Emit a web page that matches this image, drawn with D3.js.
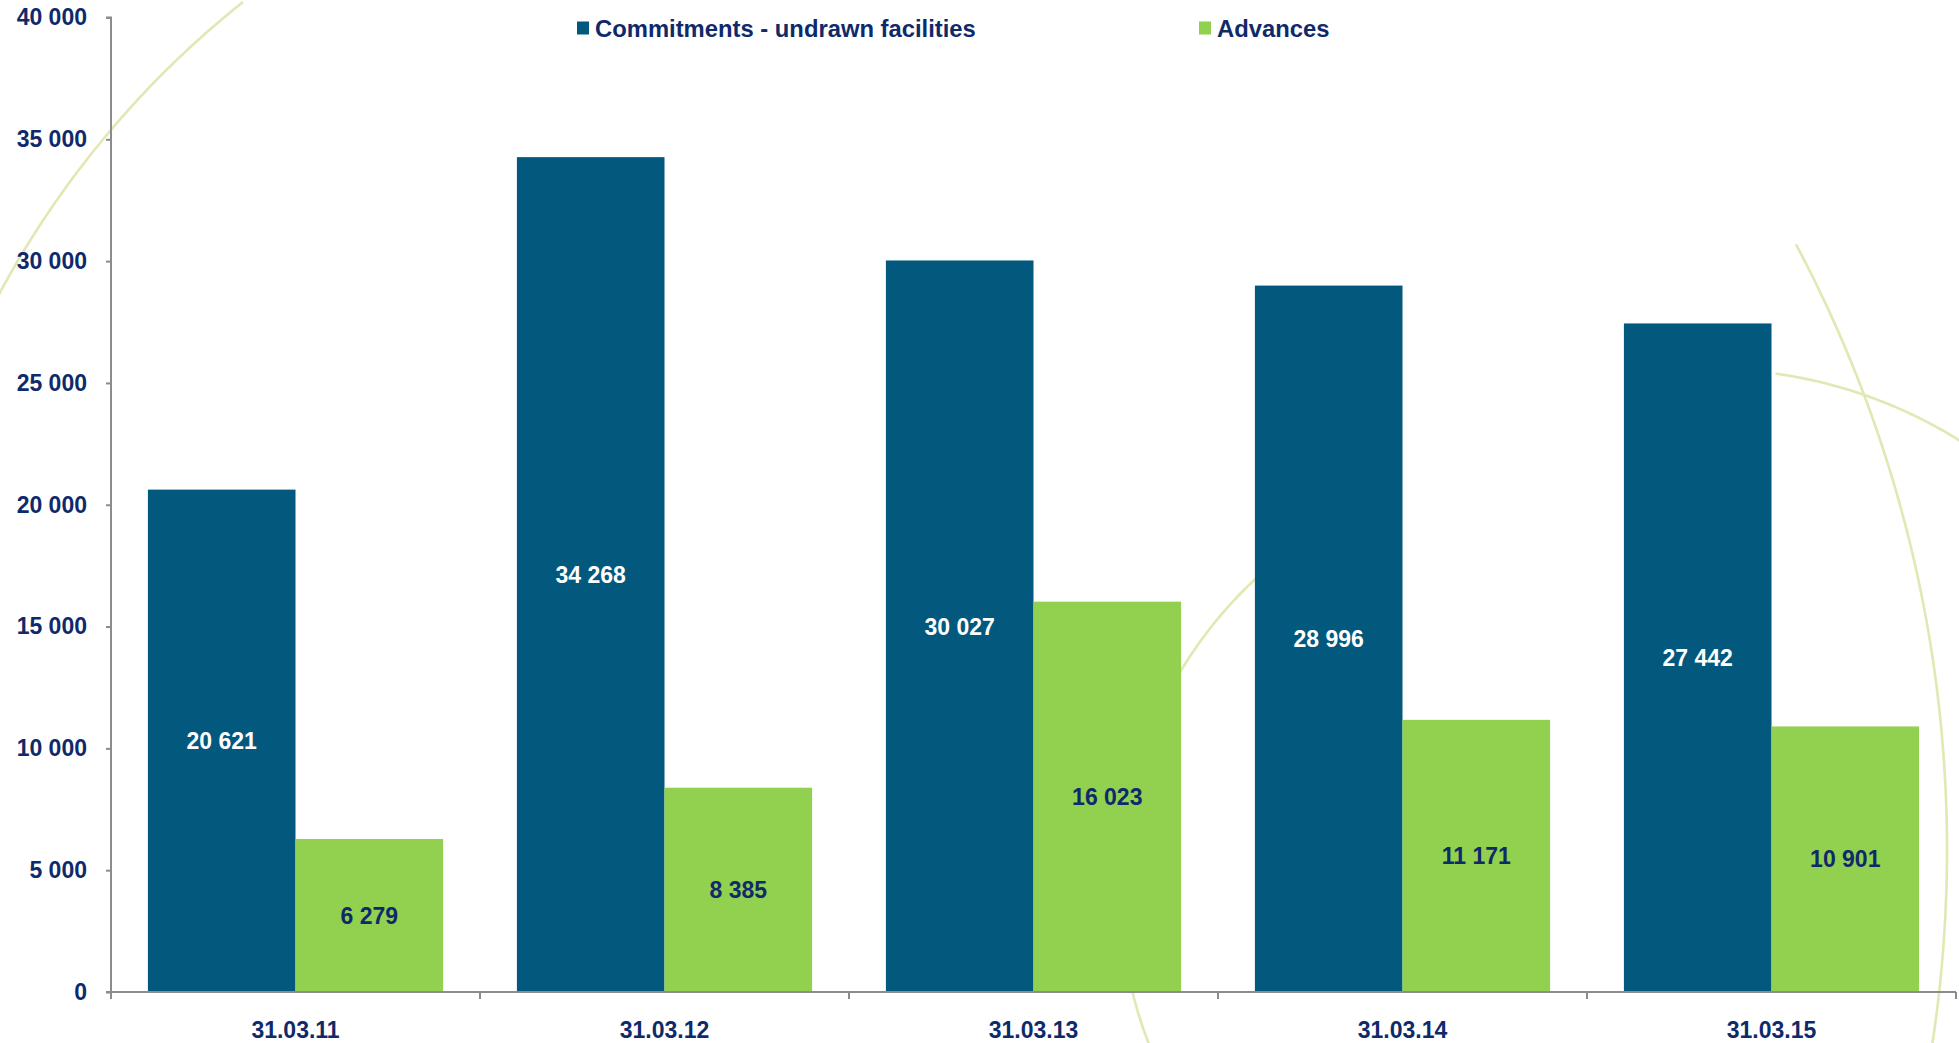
<!DOCTYPE html>
<html>
<head>
<meta charset="utf-8">
<script src="https://cdn.jsdelivr.net/npm/d3@7/dist/d3.min.js"></script>
<style>
html,body{margin:0;padding:0;background:#fff;}
svg{display:block;font-family:"Liberation Sans",Arial,sans-serif;font-weight:bold;}
</style>
</head>
<body>
<svg id="chart" width="1959" height="1043"></svg>
<script>
const categories = ["31.03.11","31.03.12","31.03.13","31.03.14","31.03.15"];
const seriesNames = ["Commitments - undrawn facilities","Advances"];
const commitments = [20621, 34268, 30027, 28996, 27442];
const advances = [6279, 8385, 16023, 11171, 10901];
const yTicks = [0,5000,10000,15000,20000,25000,30000,35000,40000];

const mLeft = 111, mRight = 1956, mTop = 17.5, mBottom = 992;
const colors = {"Commitments - undrawn facilities":"#03587e","Advances":"#92d050"};
const labelColors = {"Commitments - undrawn facilities":"#ffffff","Advances":"#0f2a6a"};
const navy = "#0f2a6a";
const fmt = v => d3.format(",")(v).replace(/,/g," ");

const svg = d3.select("#chart");

// decorative background arcs
const deco = svg.append("g").attr("fill","none").attr("stroke","#dde3a6").attr("stroke-width",2.6).attr("opacity",0.85);
function arcPath(cx,cy,r,a0,a1){
  const pts = d3.range(0,101).map(i=>{const a=a0+(a1-a0)*i/100;return [cx+r*Math.cos(a),cy+r*Math.sin(a)];});
  return d3.line()(pts);
}
const deg = Math.PI/180;
deco.append("path").attr("d",arcPath(830,740,943,-128.5*deg,-152*deg));
deco.append("path").attr("d",arcPath(1545,890,425,-120*deg,-200*deg));
deco.append("path").attr("d",arcPath(1545,890,425,160*deg,152*deg));
deco.append("path").attr("d",arcPath(657,850,1290,-28*deg,9*deg));
deco.append("path").attr("d",arcPath(1710,840,471,-82*deg,-52*deg));

const x = d3.scaleBand().domain(categories).range([mLeft,mRight]).padding(0);
const xs = d3.scaleBand().domain(seriesNames).range([0,x.bandwidth()]).paddingInner(0).paddingOuter(0.25);
const y = d3.scaleLinear().domain([0,40000]).range([mBottom,mTop]);

const data = categories.map((c,i)=>({cat:c, vals:[
  {name:seriesNames[0], v:commitments[i]},
  {name:seriesNames[1], v:advances[i]}]}));

const groups = svg.append("g").selectAll("g").data(data).join("g")
  .attr("transform",d=>`translate(${x(d.cat)},0)`);
groups.selectAll("rect").data(d=>d.vals).join("rect")
  .attr("x",d=>xs(d.name)).attr("width",xs.bandwidth())
  .attr("y",d=>y(d.v)).attr("height",d=>y(0)-y(d.v))
  .attr("fill",d=>colors[d.name]);
groups.selectAll("text").data(d=>d.vals).join("text")
  .attr("x",d=>xs(d.name)+xs.bandwidth()/2)
  .attr("y",d=>(y(d.v)+y(0))/2)
  .attr("dy","0.36em")
  .attr("text-anchor","middle")
  .attr("font-size",23)
  .attr("fill",d=>labelColors[d.name])
  .text(d=>fmt(d.v));

// y axis
const yAxis = svg.append("g").attr("transform",`translate(${mLeft},0)`)
  .call(d3.axisLeft(y).tickValues(yTicks).tickFormat(fmt).tickSize(5).tickPadding(19));
yAxis.select(".domain").attr("stroke","#8c8c8c").attr("stroke-width",2).attr("d",`M-5,${mTop}H0V${mBottom}H-5`);
yAxis.selectAll(".tick line").attr("stroke","#8c8c8c").attr("stroke-width",2);
yAxis.selectAll(".tick text").attr("fill",navy).attr("font-size",23).attr("font-family","Liberation Sans, Arial, sans-serif").attr("font-weight","bold");

// x axis
const xAxis = svg.append("g").attr("transform",`translate(0,${mBottom})`)
  .call(d3.axisBottom(x).tickSize(0).tickPadding(0));
xAxis.select(".domain").attr("stroke","#8c8c8c").attr("stroke-width",2).attr("d",`M${mLeft},0H${mRight}`);
xAxis.selectAll(".tick text").attr("fill",navy).attr("font-size",23).attr("y",46)
  .attr("dy",0).attr("font-family","Liberation Sans, Arial, sans-serif").attr("font-weight","bold");
const sepTicks = categories.map(c=>x(c)).concat([mRight]);
xAxis.append("g").selectAll("line").data(sepTicks).join("line")
  .attr("x1",d=>d).attr("x2",d=>d).attr("y1",0).attr("y2",7)
  .attr("stroke","#8c8c8c").attr("stroke-width",2);

// legend
const legendItems = [
  {name:seriesNames[0], x:577, tx:595},
  {name:seriesNames[1], x:1199, tx:1217}
];
const lg = svg.append("g");
lg.selectAll("rect").data(legendItems).join("rect")
  .attr("x",d=>d.x).attr("y",21.5).attr("width",12).attr("height",13)
  .attr("fill",d=>colors[d.name]);
lg.selectAll("text").data(legendItems).join("text")
  .attr("x",d=>d.tx).attr("y",37)
  .attr("font-size",23.8).attr("fill",navy)
  .text(d=>d.name);
</script>
</body>
</html>
